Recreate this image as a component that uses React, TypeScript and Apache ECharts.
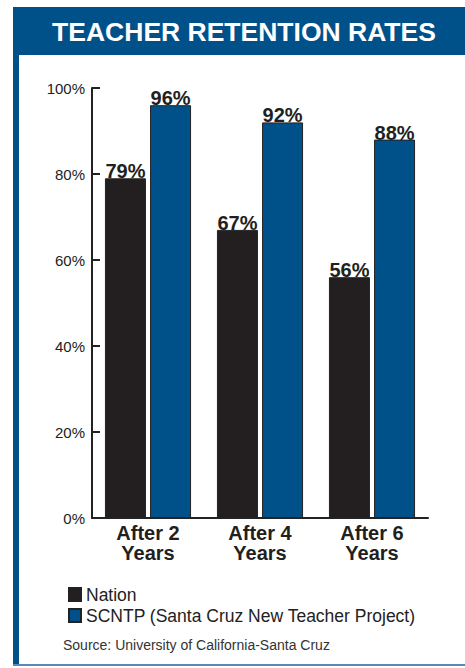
import React, { useEffect, useRef } from "react";
import * as echarts from "echarts";

const categories = ["After 2\nYears", "After 4\nYears", "After 6\nYears"];
const nationValues = [79, 67, 56];
const scntpValues = [96, 92, 88];
const seriesNames = ["Nation", "SCNTP (Santa Cruz New Teacher Project)"];
const yTicks = { min: 0, max: 100, interval: 20 };
const titleText = "TEACHER RETENTION RATES";
const sourceText = "Source: University of California-Santa Cruz";

const BLUE = "#00518a";
const DARK = "#231f20";

export default function App() {
  const ref = useRef<HTMLDivElement>(null);
  useEffect(() => {
    if (!ref.current) return;
    const chart = echarts.init(ref.current, undefined, { renderer: "svg" });
    const labelStyle = {
      show: true,
      position: "top",
      distance: -3,
      fontSize: 20,
      fontWeight: "bold",
      fontFamily: "Liberation Sans, Arial, sans-serif",
      color: DARK,
      formatter: "{c}%",
    };
    chart.setOption({
      animation: false,
      backgroundColor: "#ffffff",
      textStyle: { fontFamily: "Liberation Sans, Arial, sans-serif" },
      grid: { left: 92, right: 37, top: 88, bottom: 150 },
      legend: {
        orient: "vertical",
        left: 63,
        top: 580,
        itemWidth: 12,
        itemHeight: 13,
        itemGap: 2,
        icon: "rect",
        textStyle: {
          fontSize: 17.5,
          color: "#222",
          lineHeight: 19,
        },
        data: seriesNames,
      },
      xAxis: {
        type: "category",
        data: categories,
        axisLine: { lineStyle: { color: "#222", width: 2 } },
        axisTick: { inside: true, length: 10, lineStyle: { color: "#222", width: 2 } },
        axisLabel: {
          fontSize: 20,
          fontWeight: "bold",
          color: DARK,
          lineHeight: 20,
          margin: 5,
        },
      },
      yAxis: {
        type: "value",
        min: yTicks.min,
        max: yTicks.max,
        interval: yTicks.interval,
        axisLine: { show: true, lineStyle: { color: "#222", width: 2 } },
        axisTick: { show: true, inside: true, length: 8, lineStyle: { color: "#222", width: 2 } },
        splitLine: { show: false },
        axisLabel: { fontSize: 15, color: "#222", margin: 7, formatter: "{value}%" },
      },
      series: [
        {
          name: seriesNames[0],
          type: "bar",
          data: nationValues,
          barWidth: 41,
          barGap: "10%",
          itemStyle: { color: DARK, borderColor: "#222", borderWidth: 1 },
          label: labelStyle,
        },
        {
          name: seriesNames[1],
          type: "bar",
          data: scntpValues,
          barWidth: 41,
          itemStyle: { color: BLUE, borderColor: "#222", borderWidth: 1 },
          label: labelStyle,
        },
      ],
      graphic: [
        { type: "rect", shape: { x: 13, y: 7, width: 452, height: 48 }, style: { fill: BLUE } },
        { type: "rect", shape: { x: 13, y: 7, width: 6, height: 659 }, style: { fill: BLUE } },
        { type: "rect", shape: { x: 13, y: 664, width: 452, height: 2 }, style: { fill: "#5a88b5" } },
        {
          type: "text",
          x: 244,
          y: 32,
          style: {
            text: titleText,
            fill: "#ffffff",
            fontSize: 26.5,
            fontWeight: "bold",
            fontFamily: "Liberation Sans, Arial, sans-serif",
            align: "center",
            verticalAlign: "middle",
          },
        },
        {
          type: "text",
          x: 63,
          y: 645,
          style: {
            text: sourceText,
            fill: "#333",
            fontSize: 14,
            fontFamily: "Liberation Sans, Arial, sans-serif",
            align: "left",
            verticalAlign: "middle",
          },
        },
      ],
    });
    return () => chart.dispose();
  }, []);
  return (
    <div
      ref={ref}
      style={{ position: "fixed", left: 0, top: 0, width: 465, height: 668, background: "#fff" }}
    />
  );
}
